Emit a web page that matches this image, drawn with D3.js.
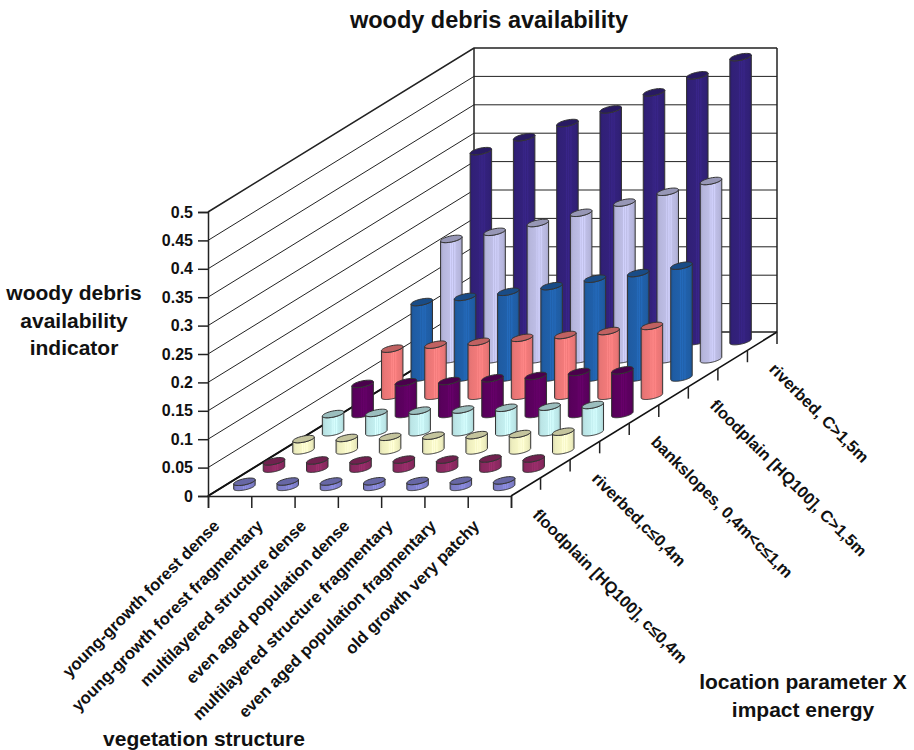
<!DOCTYPE html>
<html>
<head>
<meta charset="utf-8">
<script src="https://cdnjs.cloudflare.com/ajax/libs/d3/7.8.5/d3.min.js"></script>
<style>
  body { margin: 0; background: #fff; }
  text { font-family: "Liberation Sans", Arial, sans-serif; font-weight: bold; fill: #111; }
</style>
</head>
<body>
<svg id="chart" width="914" height="750"></svg>
<script>
// Chart data, front row first
const vegetation = ['young-growth forest dense', 'young-growth forest fragmentary', 'multilayered structure dense',
    'even aged population dense', 'multilayered structure fragmentary', 'even aged population fragmentary', 'old growth very patchy'];
const locationLabels = ['floodplain [HQ100], c≤0,4m', 'riverbed,c≤0,4m', 'bankslopes, 0,4m<c≤1,m',
    'floodplain [HQ100], C>1,5m', 'riverbed, C>1,5m'];
const rowColors = ['#8282d0', '#8f2a63', '#f7f7c6', '#c3eff0', '#5d0060', '#f27a7a', '#2060aa', '#bebee6', '#33217c'];
const rowValues = [
    [0.009, 0.0095, 0.0095, 0.010, 0.0105, 0.011, 0.0115],
    [0.013, 0.0145, 0.0145, 0.016, 0.016, 0.018, 0.018],
    [0.020, 0.022, 0.024, 0.026, 0.027, 0.029, 0.033],
    [0.032, 0.034, 0.038, 0.040, 0.043, 0.045, 0.048],
    [0.053, 0.056, 0.058, 0.063, 0.067, 0.074, 0.077],
    [0.083, 0.090, 0.095, 0.102, 0.107, 0.114, 0.123],
    [0.133, 0.142, 0.151, 0.161, 0.174, 0.184, 0.197],
    [0.212, 0.2245, 0.240, 0.258, 0.276, 0.295, 0.314],
    [0.3345, 0.359, 0.384, 0.408, 0.438, 0.468, 0.500]
];
const yTicks = [0, 0.05, 0.1, 0.15, 0.2, 0.25, 0.3, 0.35, 0.4, 0.45, 0.5];

const svg = d3.select('#chart');
const defs = svg.append('defs');

// Oblique projection: column runs along x, row depth shifts up and right
const colScale = d3.scaleLinear().domain([0, 7]).range([208, 511]);
const heightScale = d3.scaleLinear().domain([0, 0.5]).range([496, 212]);
const depthX = d3.scaleLinear().domain([0, 9]).range([0, 266]);
const depthY = d3.scaleLinear().domain([0, 9]).range([0, -164]);
const project = (col, row, value) => [colScale(col) + depthX(row), heightScale(value) + depthY(row)];

// Wall grid
const grid = svg.append('g').attr('fill', 'none').attr('stroke', '#222').attr('stroke-width', 1);
yTicks.forEach(t => {
    const a = project(0, 0, t), b = project(0, 9, t), c = project(7, 9, t);
    grid.append('path').attr('d', d3.line()([a, b, c]))
        .attr('stroke-width', t === 0.5 || t === 0 ? 1.6 : 1);
});
grid.append('path').attr('d', d3.line()([project(0, 9, 0), project(0, 9, 0.5)])).attr('stroke-width', 1.5);
grid.append('path').attr('d', d3.line()([project(7, 9, 0), project(7, 9, 0.5)])).attr('stroke-width', 1.5);

// Floor edges
const floor = svg.append('g').attr('fill', 'none').attr('stroke', '#111');
floor.append('path').attr('d', d3.line()([project(0, 0, 0), project(0, 9, 0)])).attr('stroke-width', 2);
floor.append('path').attr('d', d3.line()([project(7, 0, 0), project(7, 9, 0)])).attr('stroke-width', 1.5);

// Axes
svg.append('g').attr('transform', 'translate(208,0)')
    .call(d3.axisLeft(heightScale).tickValues(yTicks).tickSize(10).tickFormat(d3.format('')))
    .call(g => g.selectAll('text').attr('font-size', 16).attr('dx', -2))
    .call(g => g.selectAll('path,line').attr('stroke', '#222').attr('stroke-width', 1.5));
svg.append('g').attr('transform', 'translate(0,496)')
    .call(d3.axisBottom(colScale).tickValues(d3.range(8)).tickSize(12).tickFormat(''))
    .call(g => g.selectAll('path,line').attr('stroke', '#222').attr('stroke-width', 1.5));

// Ticks under the right floor edge
d3.range(1, 10).forEach(r => {
    const p = project(7, r, 0);
    svg.append('line').attr('x1', p[0]).attr('x2', p[0]).attr('y1', p[1]).attr('y2', p[1] + 12)
        .attr('stroke', '#222').attr('stroke-width', 1.5);
});

// Gradient per row: dark edges, pale streaks towards the middle
rowColors.forEach((color, i) => {
    const base = d3.color(color);
    const stops = [[0, base.darker(0.45)], [0.12, base.darker(0.12)], [0.42, base], [0.46, base.brighter(0.3)], [0.49, base],
        [0.56, base.brighter(0.3)], [0.6, base], [0.66, base.brighter(0.25)], [0.72, base], [0.88, base.darker(0.1)], [1, base.darker(0.4)]];
    const grad = defs.append('linearGradient').attr('id', `bar${i}`);
    stops.forEach(s => grad.append('stop').attr('offset', s[0]).attr('stop-color', s[1]));
});

// Cylinders, back row first
const radius = 0.41 / 2;
function ellipsePoints(col, row, value, from, to) {
    return d3.range(0, 41).map(k => {
        const t = from + (to - from) * k / 40;
        return project(col + radius * Math.cos(t), row + radius * Math.sin(t), value);
    });
}
// angle at which the silhouette of the disc is widest in screen x
const dx = colScale(1) - colScale(0), ddx = depthX(1);
const sideAngle = Math.atan2(ddx, dx);

const bars = svg.append('g');
d3.range(rowValues.length - 1, -1, -1).forEach(r => {
    rowValues[r].forEach((v, c) => {
        const col = c + 0.5, row = r + 0.5;
        const lower = ellipsePoints(col, row, 0, sideAngle - Math.PI, sideAngle + 0);
        const upper = ellipsePoints(col, row, v, sideAngle, sideAngle - Math.PI);
        const g = bars.append('g');
        g.append('path').attr('d', d3.line()(lower.concat(upper)) + 'Z')
            .attr('fill', `url(#bar${r})`).attr('stroke', '#333').attr('stroke-width', 1);
        g.append('path').attr('d', d3.line()(ellipsePoints(col, row, v, 0, 2 * Math.PI)) + 'Z')
            .attr('fill', d3.color(rowColors[r]).darker(0.65)).attr('stroke', '#333').attr('stroke-width', 1);
    });
});

// Tick labels
vegetation.forEach((name, i) => {
    const x = colScale(i + 0.5) - 9;
    svg.append('text').attr('text-anchor', 'end').attr('font-size', 16.6)
        .attr('transform', `translate(${x},${527}) rotate(-45)`).text(name);
});
locationLabels.forEach((name, i) => {
    const p = project(7, i * 2 + 0.5, 0);
    svg.append('text').attr('font-size', 16.4)
        .attr('transform', `translate(${p[0] + 6},${p[1] + 29}) rotate(45)`).text(name);
});

// Titles
const title = (lines, x, y, size) => lines.forEach((line, i) => {
    svg.append('text').attr('text-anchor', 'middle').attr('font-size', size)
        .attr('x', x).attr('y', y + i * 27.7).text(line);
});
title(['woody debris availability'], 489, 28, 23.5);
title(['woody debris', 'availability', 'indicator'], 74, 300, 21);
title(['location parameter X', 'impact energy'], 803, 689, 21);
title(['vegetation structure'], 204, 746, 21);
</script>
</body>
</html>
